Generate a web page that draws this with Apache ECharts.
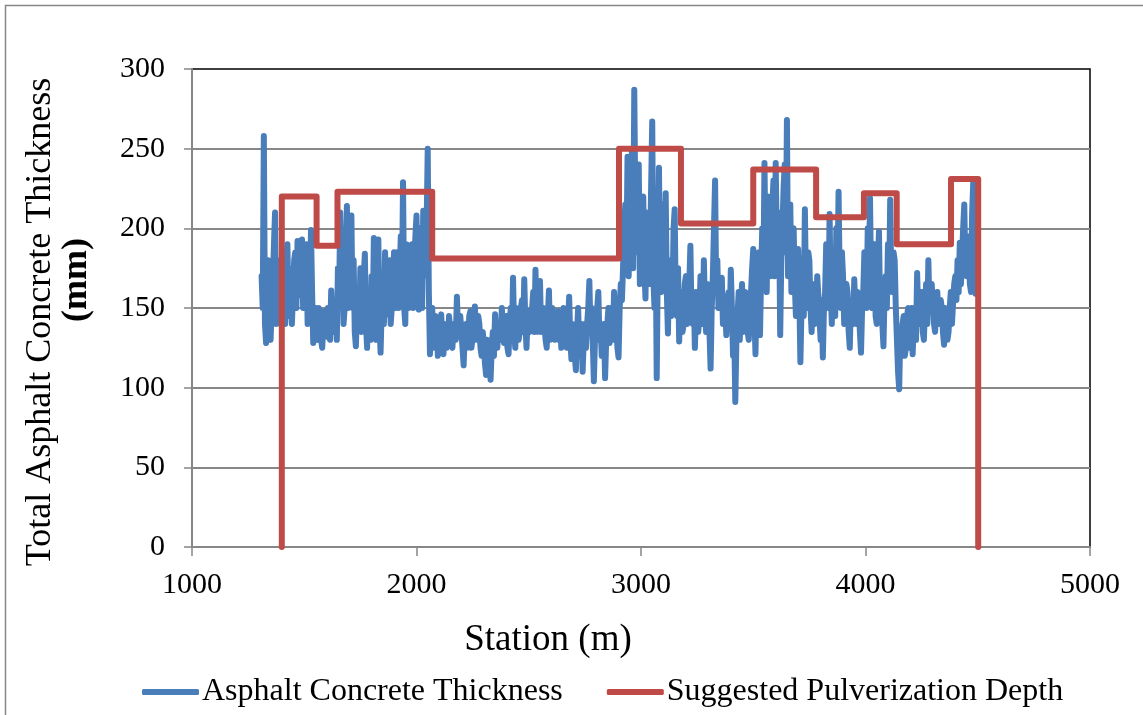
<!DOCTYPE html>
<html>
<head>
<meta charset="utf-8">
<script src="https://cdn.jsdelivr.net/npm/echarts@6/dist/echarts.min.js"></script>
<style>
html,body{margin:0;padding:0;background:#fff;}
#chart{width:1143px;height:715px;}
</style>
</head>
<body>
<div id="chart"></div>
<script>
// Station spacing of the thickness survey (m)
const stationStep = 5;
// Asphalt concrete thickness (mm), segments with their first station (m)
const segA_start = 1310;
const segA = [170,150,258,140,128,175,180,135,130,150,165,190,210,140,150,180,175,140,155,185,
  180,140,160,190,145,175,170,140,160,180,185,150,192,160,158,185,193,150,165,180,
  190,140,175,150,199,160,128,140,150,135,130,150,145,130,125,140,148,135,132,150,
  150,130,161,140,135,140,150,130,175,150,210,160,190,140,150,185,214,150,170,195,
  208,150,180,135,126,150,160,140,175,135,140,170,184,140,125,160,150,130,170,140,
  194,150,130,175,193,140,122,150,165,140,185,150,146,175,180,140,150,170,185,150];
const segB_start = 1910;
const segB = [160,185,150,170,195,160,229,150,140,190,175,150,160,180,190,150,170,195,208,160,
  149,185,200,150,211,170,180,200,250,160,121,140,150,125,130,145,142,120,125,140,
  146,130,121,140,140,125,128,145,145,128,125,140,140,130,157,135,135,145,145,125,
  114,135,140,125,130,145,148,125,125,140,151,130,130,145,140,125,120,135,128,115,
  108,130,125,115,105,125,135,120,146,130,125,140,140,130,150,135,128,140,145,125,
  121,140,150,130,169,135,125,150,145,130,135,150,155,135,168,140,125,145,148,135];
const segC_start = 2510;
const segC = [140,150,160,135,174,140,135,155,167,135,140,150,150,130,125,145,161,130,140,150,
  150,130,130,145,148,130,145,125,135,150,145,130,125,140,157,130,118,140,135,120,
  111,135,150,125,120,140,110,130,140,125,140,150,167,135,150,130,104,130,135,150,
  160,130,140,120,125,140,106,130,140,150,128,140,150,130,160,135,140,125,119,150,
  165,155,175,200,215,180,245,170,200,230,250,175,287,210,185,225,240,165,170,215,
  220,175,156,210,205,165,180,225,267,170,150,200,106,180,238,175,160,215,200,165];
const segD_start = 3110;
const segD = [222,160,134,175,180,145,150,200,212,150,145,175,129,155,160,135,140,165,170,140,
  150,165,189,145,140,160,125,150,160,135,145,170,165,140,180,150,135,165,155,135,
  112,150,170,200,230,160,180,150,150,165,169,140,140,150,133,155,160,140,174,150,
  120,140,91,130,145,160,130,150,165,135,140,160,155,135,130,150,160,175,187,145,
  121,165,150,185,133,170,200,165,241,180,160,220,205,175,170,215,230,170,241,190,
  175,210,133,180,200,225,240,185,268,170,190,215,160,195,200,165,145,180,187,160];
const segE_start = 3710;
const segE = [116,150,170,145,212,160,150,185,180,150,135,165,165,140,145,170,170,145,130,155,
  119,150,160,190,185,150,209,160,140,185,175,145,200,165,223,170,150,185,170,140,
  140,165,160,135,125,155,150,140,168,145,140,160,155,135,122,150,160,185,180,150,
  200,160,219,165,150,185,190,145,140,175,198,150,160,140,126,160,170,150,190,160,
  218,165,160,185,180,150,130,110,99,135,120,140,145,120,125,145,150,125,135,150,
  121,140,150,130,172,145,140,155,160,135,130,150,165,140,180,150,150,165,165,140];
const segF_start = 4310;
const segF = [135,150,160,140,140,155,150,135,127,150,145,130,135,150,160,140,140,165,170,155,
  180,160,191,165,165,200,215,175,170,195,190,165,160,210,229,185,159];

// Suggested pulverization depth: step boundaries (m) and depths (mm)
const stepStations = [1400,1555,1648,2070,2902,3178,3500,3780,3993,4139,4381,4502];
const stepDepths   = [220,189,223,181,250,203,237,207,222,190,231];

// Axis ticks
const xTicks = [1000,2000,3000,4000,5000];
const yTicks = [0,50,100,150,200,250,300];

function seg(start, vals){ return vals.map((v,i)=>[start + i*stationStep, v]); }
const thickness = [].concat(
  seg(segA_start,segA), seg(segB_start,segB), seg(segC_start,segC),
  seg(segD_start,segD), seg(segE_start,segE), seg(segF_start,segF));

const depth = [[stepStations[0],0]];
for (let i=0;i<stepDepths.length;i++){
  depth.push([stepStations[i],stepDepths[i]]);
  depth.push([stepStations[i+1],stepDepths[i]]);
}
depth.push([stepStations[stepStations.length-1],0]);

const FONT = '"Liberation Serif","Times New Roman",serif';
const BLUE = '#4a7ebb';
const RED = '#be4b48';
const GREY = '#878787';

const chart = echarts.init(document.getElementById('chart'), null, {renderer:'canvas'});
chart.setOption({
  animation:false,
  backgroundColor:'#fff',
  grid:{left:192, top:69, width:898, height:478, show:true, borderColor:'#000', borderWidth:1.5, backgroundColor:'transparent'},
  xAxis:{
    type:'value', min:xTicks[0], max:xTicks[xTicks.length-1], interval:1000,
    axisLine:{show:true, lineStyle:{color:GREY, width:2}},
    axisTick:{show:true, length:9, lineStyle:{color:GREY, width:1.5}},
    axisLabel:{color:'#000', fontFamily:FONT, fontSize:30, margin:23, formatter:(v)=>String(v)},
    splitLine:{show:false}
  },
  yAxis:{
    type:'value', min:yTicks[0], max:yTicks[yTicks.length-1], interval:50,
    axisLine:{show:true, lineStyle:{color:GREY, width:2}},
    axisTick:{show:true, length:8, lineStyle:{color:GREY, width:1.5}},
    axisLabel:{color:'#000', fontFamily:FONT, fontSize:30, margin:27, formatter:(v)=>String(v)},
    splitLine:{show:true, showMaxLine:false, showMinLine:false, lineStyle:{color:GREY, width:2}}
  },
  legend:{
    left:137, top:671, itemWidth:57, itemHeight:6, itemGap:44, icon:'roundRect',
    textStyle:{color:'#000', fontFamily:FONT, fontSize:32, padding:[0,0,0,-2]},
    data:['Asphalt Concrete Thickness','Suggested Pulverization Depth']
  },
  series:[
    {name:'Asphalt Concrete Thickness', type:'line', data:thickness, showSymbol:false, symbol:'none',
     lineStyle:{color:BLUE, width:6, join:'round', cap:'round'}, itemStyle:{color:BLUE}},
    {name:'Suggested Pulverization Depth', type:'line', data:depth, showSymbol:false, symbol:'none',
     lineStyle:{color:RED, width:6, join:'round', cap:'round'}, itemStyle:{color:RED}}
  ],
  graphic:[
    {type:'rect', shape:{x:5.5,y:5.5,width:1160,height:730}, style:{fill:'none', stroke:GREY, lineWidth:1.5}, silent:true},
    {type:'text', x:548, y:640, style:{text:'Station (m)', font:'37px '+FONT, fill:'#000', textAlign:'center', textVerticalAlign:'middle'}},
    {type:'text', x:41, y:322, rotation:Math.PI/2, style:{text:'Total Asphalt Concrete Thickness', font:'36px '+FONT, fill:'#000', textAlign:'center', textVerticalAlign:'middle'}},
    {type:'text', x:77, y:280, rotation:Math.PI/2, style:{text:'(mm)', font:'bold 36px '+FONT, fill:'#000', textAlign:'center', textVerticalAlign:'middle'}}
  ]
});
</script>
</body>
</html>
